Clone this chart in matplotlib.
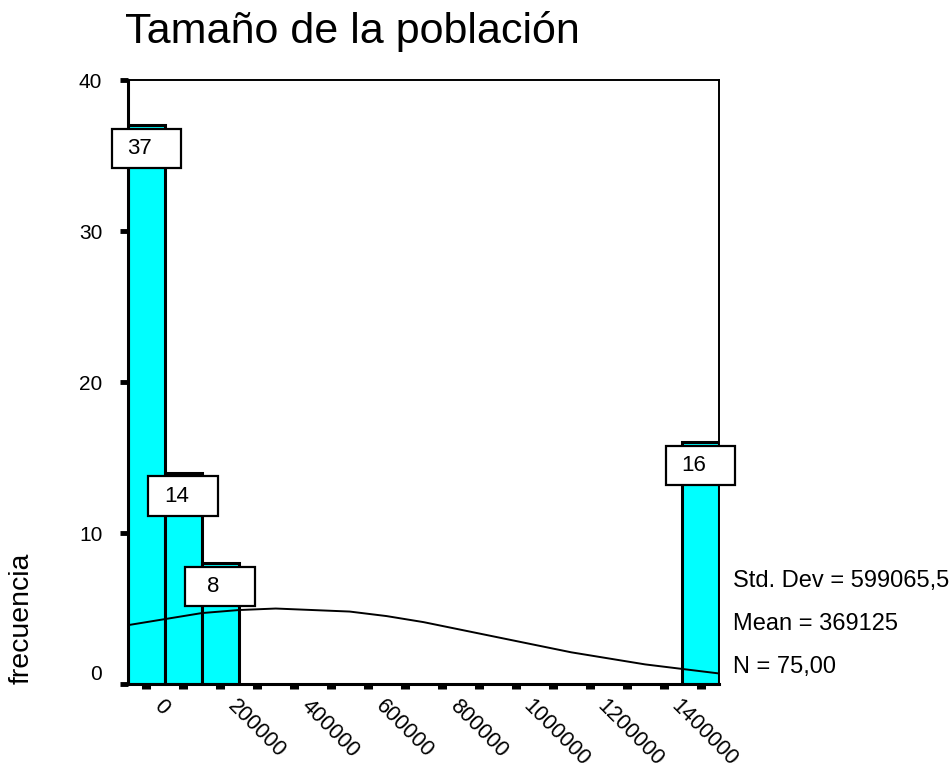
import matplotlib
matplotlib.use('Agg')
import matplotlib.pyplot as plt
from matplotlib.patches import Rectangle
from matplotlib.transforms import ScaledTranslation

plt.rcParams['font.family'] = ['Liberation Sans', 'DejaVu Sans']

# histogram data (bin centres, width 100000)
bin_centers = [0, 100000, 200000, 300000, 400000, 500000, 600000, 700000,
               800000, 900000, 1000000, 1100000, 1200000, 1300000, 1400000, 1500000]
counts = [37, 14, 8, 0, 0, 0, 0, 0, 0, 0, 0, 0, 0, 0, 0, 16]
bin_width = 100000

tick_labels = ['0', '', '200000', '', '400000', '', '600000', '', '800000', '',
               '1000000', '', '1200000', '', '1400000', '']

# fitted normal curve
curve_x = [-50000, 50000, 150000, 250000, 350000, 450000, 550000, 650000, 750000,
           850000, 950000, 1050000, 1150000, 1250000, 1350000, 1450000, 1550000]
curve_y = [3.9, 4.3, 4.7, 4.9, 5.0, 4.9, 4.8, 4.5, 4.1,
           3.6, 3.1, 2.6, 2.1, 1.7, 1.3, 1.0, 0.7]

stats = ['Std. Dev = 599065,5', 'Mean = 369125', 'N = 75,00']

fig = plt.figure(figsize=(9.53, 7.71), dpi=100)
ax = fig.add_axes([0.1343, 0.1128, 0.6202, 0.7834])

xs = [c for c, n in zip(bin_centers, counts) if n > 0]
ns = [n for n in counts if n > 0]
ax.bar(xs, ns, width=bin_width, color='#00FFFF', edgecolor='black',
       linewidth=2.2, zorder=2)

ax.plot(curve_x, curve_y, color='black', linewidth=1.4, zorder=3)

# value boxes on top of bars
for c, n in zip(xs, ns):
    bw, bh = 189000, 2.6
    ax.add_patch(Rectangle((c - bw / 2, n - 0.25 - bh), bw, bh, facecolor='white',
                           edgecolor='black', linewidth=1.6, zorder=4, clip_on=False))
    ax.text(c - 19000, n - 0.25 - bh / 2, str(n), ha='center', va='center',
            fontsize=16, zorder=5)

ax.set_xlim(-50000, 1550000)
ax.set_ylim(0, 40)
ax.set_yticks([0, 10, 20, 30, 40])
ax.set_xticks(bin_centers)
ax.set_xticklabels(tick_labels, rotation=-45, ha='left', va='top',
                   rotation_mode='anchor', fontsize=15.5)
ax.tick_params(axis='y', direction='out', length=6, width=3.5, labelsize=15, pad=12.5)
ax.tick_params(axis='x', direction='out', length=3.5, width=6.5, pad=5)

shift = ScaledTranslation(0.18, 0, fig.dpi_scale_trans)
for lab in ax.get_xticklabels():
    lab.set_transform(lab.get_transform() + shift)
ax.get_yticklabels()[0].set_va('bottom')

for s in ['left', 'bottom']:
    ax.spines[s].set_linewidth(2.2)
for s in ['top', 'right']:
    ax.spines[s].set_linewidth(1.4)

fig.text(125 / 953, 1 - 43 / 771, 'Tamaño de la población', fontsize=31,
         ha='left', va='baseline')
fig.text(22 / 953, 1 - 618 / 771, 'frecuencia', fontsize=20.5, rotation=90,
         ha='center', va='center')

for i, s in enumerate(stats):
    fig.text(733 / 953, 1 - (581 + 43 * i) / 771, s, fontsize=17,
             ha='left', va='center')

fig.savefig('out.png', dpi=100)
